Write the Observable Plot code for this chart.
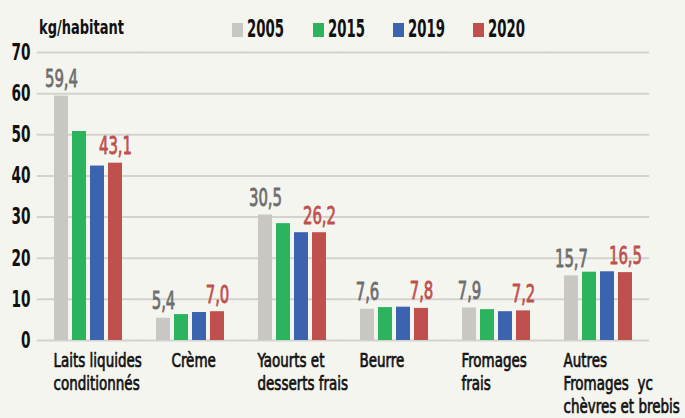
<!DOCTYPE html>
<html><head><meta charset="utf-8">
<script src="https://cdn.jsdelivr.net/npm/d3@7"></script>
<script src="https://cdn.jsdelivr.net/npm/@observablehq/plot@0.6"></script>
<style>
body{margin:0;background:#f5f5f0;font-family:"DejaVu Sans Condensed","DejaVu Sans",sans-serif;}
#header{position:relative;height:28px;width:685px;color:#111;}
#unit{position:absolute;left:39px;top:18px;font-size:19px;line-height:19px;font-weight:bold;transform:scaleX(0.76);transform-origin:left center;white-space:nowrap;}
.sw{position:absolute;top:23px;width:11px;height:14px;}
.lab{position:absolute;top:17px;font-size:24px;line-height:24px;font-weight:bold;transform:scaleX(0.615);transform-origin:left center;white-space:nowrap;}
</style></head><body>
<div id="header"><div id="unit">kg/habitant</div></div>
<div id="chart"></div>
<script>
const categories = ["Laits liquides\nconditionnés","Crème","Yaourts et\ndesserts frais","Beurre","Fromages\nfrais","Autres\nFromages  yc\nchèvres et brebis"];
const years = ["2005","2015","2019","2020"];
const v2005 = [59.4, 5.4, 30.5, 7.6, 7.9, 15.7];
const v2015 = [50.8, 6.3, 28.4, 8.0, 7.5, 16.6];
const v2019 = [42.4, 6.8, 26.2, 8.1, 7.0, 16.7];
const v2020 = [43.1, 7.0, 26.2, 7.8, 7.2, 16.5];
const colors = ["#c8c7c3", "#2bb35d", "#3c63b0", "#c0504e"];
const yTicks = [0, 10, 20, 30, 40, 50, 60, 70];
const labeledYears = ["2005", "2020"];

const series = [v2005, v2015, v2019, v2020];
const table = [];
categories.forEach((c, i) => years.forEach((y, j) => table.push({category: c, year: y, value: series[j][i]})));
const fmt = v => d3.format(".1f")(v).replace(".", ",");
const labelColor = d => d.year === "2005" ? "#6e6e6e" : "#c0504e";

// legend
const header = document.getElementById("header");
const legendLeft = [232, 313, 393, 473];
years.forEach((y, j) => {
  const s = document.createElement("div");
  s.className = "sw";
  s.style.left = legendLeft[j] + "px";
  s.style.background = colors[j];
  header.appendChild(s);
  const t = document.createElement("div");
  t.className = "lab";
  t.style.left = (legendLeft[j] + 15) + "px";
  t.textContent = y;
  header.appendChild(t);
});

const font = `"DejaVu Sans Condensed","DejaVu Sans",sans-serif`;
const catText = {frameAnchor: "bottom-left", textAnchor: "start", lineAnchor: "top", dy: 10,
  fontSize: 20, lineHeight: 1.15, fill: "#111", stroke: "#111", strokeWidth: 0.7};
const chart = Plot.plot({
  width: 685,
  height: 390,
  marginLeft: 36,
  marginRight: 35,
  marginTop: 24,
  marginBottom: 78,
  style: {background: "transparent", fontFamily: font},
  fx: {domain: categories, paddingInner: 0.316, paddingOuter: 0.158, axis: null},
  x: {domain: years, paddingInner: 0.21, paddingOuter: 0, axis: null},
  y: {domain: [0, 70], axis: null},
  color: {domain: years, range: colors},
  marks: [
    Plot.ruleY(yTicks, {stroke: "#d2d2d0", strokeWidth: 2, insetLeft: -16.2, insetRight: -16.2}),
    Plot.barY(table, {fx: "category", x: "year", y: "value", fill: "year"}),
    Plot.text(table.filter(d => labeledYears.includes(d.year)), {
      fx: "category", x: "year", y: "value", text: d => fmt(d.value),
      fill: labelColor, stroke: labelColor, strokeWidth: 0.8,
      dy: -9, lineAnchor: "bottom", fontSize: 24
    }),
    Plot.text(categories.filter(c => c !== "Crème"), {...catText, fx: d => d, text: d => d}),
    Plot.text(categories.filter(c => c === "Crème"), {...catText, fx: d => d, text: d => d, dx: 16}),
    Plot.text(yTicks, {
      fx: () => categories[0], y: d => d, text: d => String(d), frameAnchor: "left",
      textAnchor: "end", dx: -23, fontSize: 23, fontWeight: "bold", fill: "#111"
    })
  ]
});
// condense glyphs horizontally around each text's anchor
const squeeze = {"20": 0.75, "23": 0.66, "24": 0.69};
chart.querySelectorAll("text").forEach(t => {
  const g = t.closest("g[font-size]");
  const fs = g ? g.getAttribute("font-size") : null;
  const k = squeeze[fs];
  if (k) {
    const tr = t.getAttribute("transform") || "";
    t.setAttribute("transform", tr + ` scale(${k},1)`);
  }
});
document.getElementById("chart").appendChild(chart);
</script>
</body></html>
